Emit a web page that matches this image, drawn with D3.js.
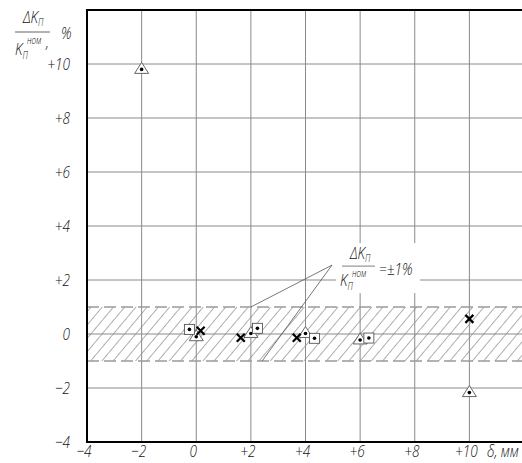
<!DOCTYPE html>
<html><head><meta charset="utf-8">
<script src="https://cdn.jsdelivr.net/npm/d3@7"></script>
<style>html,body{margin:0;padding:0;background:#fff;overflow:hidden}</style>
</head><body>
<svg id="c" width="522" height="463"></svg>
<script>
// ---- data ----
const xTicks = [-4, -2, 0, 2, 4, 6, 8, 10];
const xTickLabels = ["\u22124", "\u22122", "0", "+2", "+4", "+6", "+8", "+10"];
const yTicks = [-4, -2, 0, 2, 4, 6, 8, 10];
const yTickLabels = ["\u22124", "\u22122", "0", "+2", "+4", "+6", "+8", "+10"];
const bandLimits = [-1, 1];
// series: triangles (with dot)
const triX = [-2.0, 0.0, 2.0, 4.0, 6.0, 10.0];
const triY = [9.8, -0.1, 0.02, 0.02, -0.22, -2.17];
// series: squares (with dot)
const sqX = [-0.25, 2.24, 4.33, 6.32];
const sqY = [0.17, 0.21, -0.16, -0.15];
// series: crosses
const crX = [0.16, 1.63, 3.68, 10.0];
const crY = [0.12, -0.14, -0.14, 0.56];
// annotation leader (data units)
const leaderFrom = [4.97, 2.55];
const leaderTo = [[2.0, 1.0], [2.41, -1.0]];

const svg = d3.select("#c");
const x = d3.scaleLinear().domain([-4, 12]).range([87, 524]);
const y = d3.scaleLinear().domain([-4, 12]).range([442, 10]);
const font = "'Open Sans',sans-serif";
const W = 522;
const SX = 0.8;
const tf = (X, Y) => `translate(${X},${Y}) scale(${SX},1)`;

// hatch pattern
const defs = svg.append("defs");
const pat = defs.append("pattern").attr("id", "hatch")
  .attr("patternUnits", "userSpaceOnUse").attr("width", 8.6).attr("height", 20)
  .attr("patternTransform", "rotate(40)");
pat.append("line").attr("x1", 0).attr("y1", -2).attr("x2", 0).attr("y2", 22)
  .attr("stroke", "#333").attr("stroke-width", 0.8);

// band
svg.append("rect").attr("x", x(-4)).attr("y", y(bandLimits[1]))
  .attr("width", W - x(-4)).attr("height", y(bandLimits[0]) - y(bandLimits[1]))
  .attr("fill", "url(#hatch)");

// grid
svg.append("g").selectAll("line.v").data(xTicks.filter(d => d > -4)).join("line")
  .attr("x1", d => x(d)).attr("x2", d => x(d)).attr("y1", y(12)).attr("y2", y(-4))
  .attr("stroke", "#8a8a8a").attr("stroke-width", 1);
svg.append("g").selectAll("line.h").data(yTicks.filter(d => d > -4)).join("line")
  .attr("x1", x(-4)).attr("x2", W).attr("y1", d => y(d)).attr("y2", d => y(d))
  .attr("stroke", "#8a8a8a").attr("stroke-width", 1);

// band dashed borders
svg.append("g").selectAll("line").data(bandLimits).join("line")
  .attr("x1", x(-4)).attr("x2", W).attr("y1", d => y(d)).attr("y2", d => y(d))
  .attr("stroke", "#9a9a9a").attr("stroke-width", 1.3).attr("stroke-dasharray", "12,5");

// leader lines
svg.append("g").selectAll("line").data(leaderTo).join("line")
  .attr("x1", x(leaderFrom[0])).attr("y1", y(leaderFrom[1]))
  .attr("x2", d => x(d[0])).attr("y2", d => y(d[1]))
  .attr("stroke", "#555").attr("stroke-width", 0.8);

// annotation
const ax = x(leaderFrom[0]), ay = y(leaderFrom[1]);
svg.append("rect").attr("x", ax + 4).attr("y", ay - 22).attr("width", 84).attr("height", 50).attr("fill", "#fff");
const ann = svg.append("g").attr("font-family", font).attr("font-style", "italic").attr("font-weight", 300).attr("fill", "#111");
const num = ann.append("text").attr("transform", tf(ax + 18, ay - 6)).attr("font-size", 17);
num.append("tspan").text("\u0394K");
num.append("tspan").attr("font-size", 10).attr("dy", 3).text("\u041F");
ann.append("line").attr("x1", ax + 10).attr("x2", ax + 43).attr("y1", ay + 1).attr("y2", ay + 1)
  .attr("stroke", "#999").attr("stroke-width", 1.3);
const den = ann.append("text").attr("transform", tf(ax + 8, ay + 21)).attr("font-size", 17);
den.append("tspan").text("K");
den.append("tspan").attr("font-size", 10).attr("dy", 4).text("\u041F");
ann.append("text").attr("transform", tf(ax + 20, ay + 12)).attr("font-size", 10).text("\u043D\u043E\u043C");
ann.append("text").attr("transform", tf(ax + 47, ay + 10)).attr("font-size", 17).text("=\u00B11%");

// axes frame
svg.append("line").attr("x1", x(-4)).attr("x2", x(-4)).attr("y1", y(12) - 1).attr("y2", y(-4) + 1)
  .attr("stroke", "#000").attr("stroke-width", 2);
svg.append("line").attr("x1", x(-4) - 1).attr("x2", W).attr("y1", y(-4)).attr("y2", y(-4))
  .attr("stroke", "#000").attr("stroke-width", 2);
svg.append("line").attr("x1", x(-4) - 1).attr("x2", W).attr("y1", y(12)).attr("y2", y(12))
  .attr("stroke", "#000").attr("stroke-width", 2);

// markers: triangles
const tri = svg.append("g").selectAll("g").data(triX.map((v, i) => [v, triY[i]])).join("g")
  .attr("transform", d => `translate(${x(d[0])},${y(d[1])})`);
tri.append("path").attr("d", "M0,-7L7,4L-7,4Z").attr("fill", "#fff").attr("stroke", "#555").attr("stroke-width", 0.9);
tri.append("circle").attr("r", 1.8).attr("fill", "#000");

// squares
const sq = svg.append("g").selectAll("g").data(sqX.map((v, i) => [v, sqY[i]])).join("g")
  .attr("transform", d => `translate(${x(d[0])},${y(d[1])})`);
sq.append("rect").attr("x", -5).attr("y", -5).attr("width", 10).attr("height", 10)
  .attr("fill", "#fff").attr("stroke", "#555").attr("stroke-width", 0.9);
sq.append("circle").attr("r", 1.8).attr("fill", "#000");

// crosses
svg.append("g").selectAll("path").data(crX.map((v, i) => [v, crY[i]])).join("path")
  .attr("transform", d => `translate(${x(d[0])},${y(d[1])})`)
  .attr("d", "M-4,-4L4,4M-4,4L4,-4").attr("stroke", "#000").attr("stroke-width", 2.2).attr("fill", "none");

// tick labels
const lab = svg.append("g").attr("font-family", font).attr("font-style", "italic").attr("font-weight", 300).attr("font-size", 17).attr("fill", "#111");
lab.selectAll("text.y").data(yTicks).join("text")
  .attr("transform", d => tf(70, y(d) + 6)).attr("text-anchor", "end").text((d, i) => yTickLabels[i]);
lab.selectAll("text.x").data(xTicks).join("text")
  .attr("transform", d => tf(x(d) - 3, 457)).attr("text-anchor", "middle").text((d, i) => xTickLabels[i]);
lab.append("text").attr("transform", tf(487, 457)).text("\u03B4, \u043C\u043C");

// y title
const yt = svg.append("g").attr("font-family", font).attr("font-style", "italic").attr("font-weight", 300).attr("fill", "#111");
const yn = yt.append("text").attr("transform", tf(23, 23)).attr("font-size", 17);
yn.append("tspan").text("\u0394K");
yn.append("tspan").attr("font-size", 10).attr("dy", 3).text("\u041F");
yt.append("line").attr("x1", 15).attr("x2", 50).attr("y1", 32).attr("y2", 32).attr("stroke", "#999").attr("stroke-width", 1.3);
const yd = yt.append("text").attr("transform", tf(15, 55)).attr("font-size", 17);
yd.append("tspan").text("K");
yd.append("tspan").attr("font-size", 10).attr("dy", 4).text("\u041F");
yt.append("text").attr("transform", tf(27, 44)).attr("font-size", 10).text("\u043D\u043E\u043C");
yt.append("text").attr("transform", tf(46, 48)).attr("font-size", 17).text(",");
yt.append("text").attr("transform", tf(61, 39)).attr("font-size", 17).text("%");
</script>
</body></html>
